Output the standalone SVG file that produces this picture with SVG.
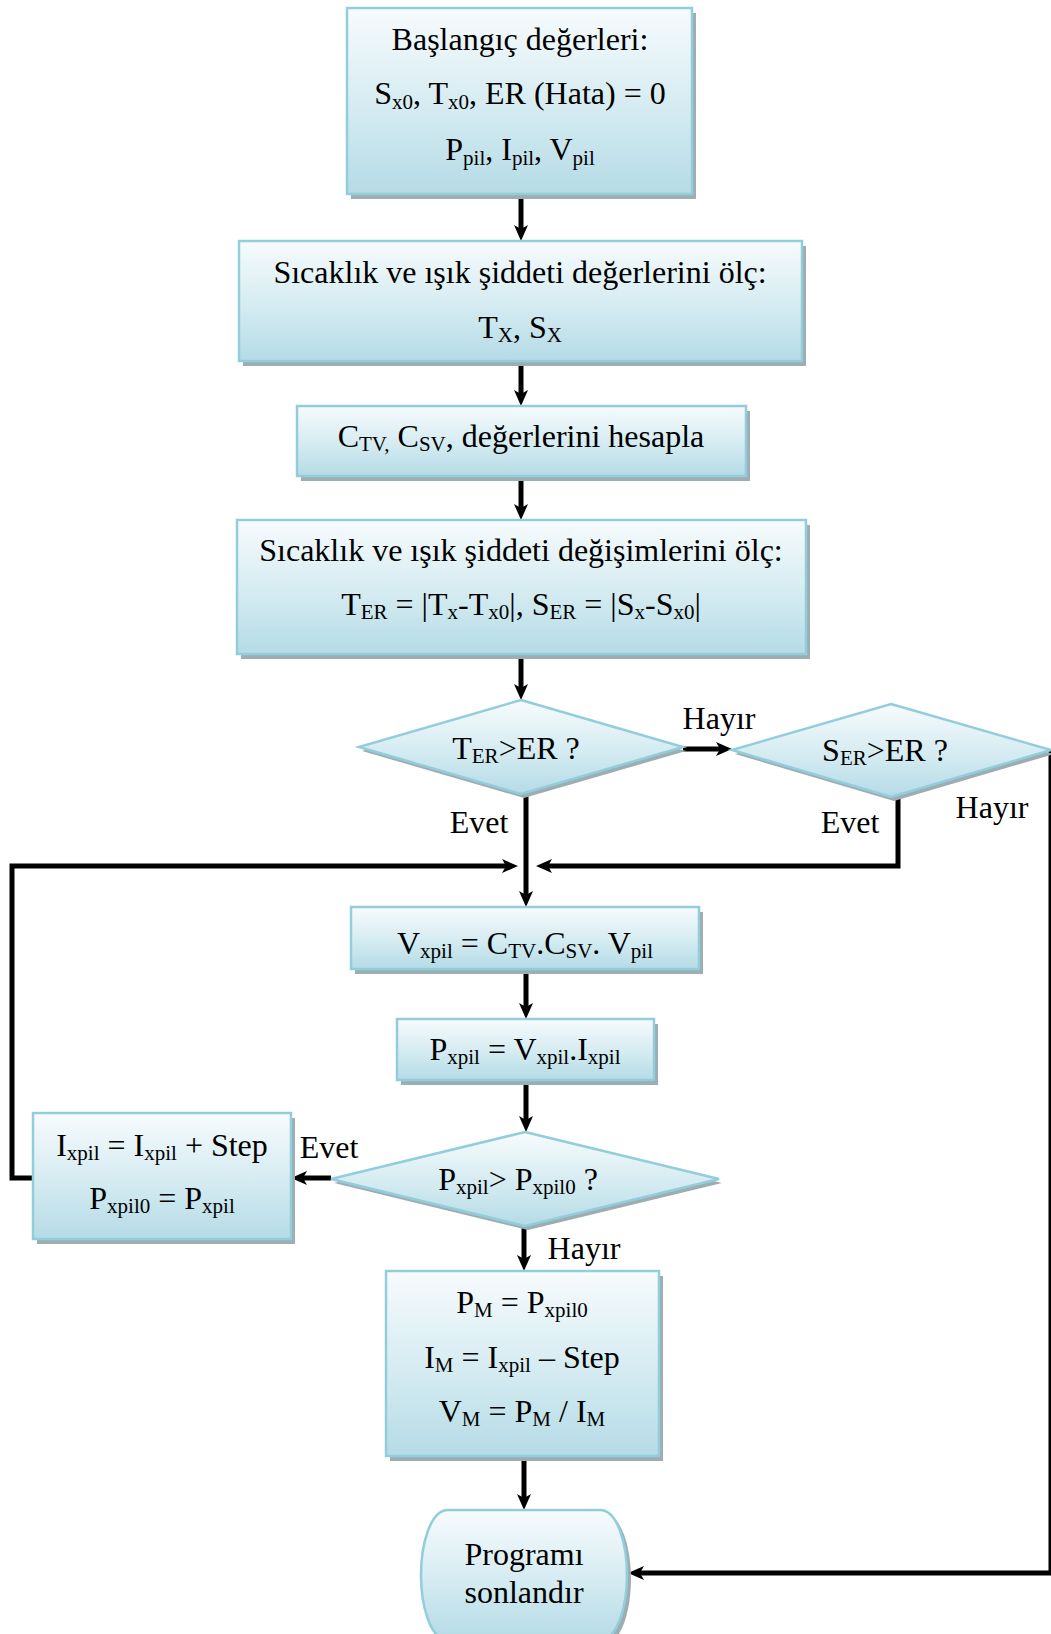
<svg xmlns="http://www.w3.org/2000/svg" width="1051" height="1634" viewBox="0 0 1051 1634">
<defs>
<linearGradient id="fill" x1="0" y1="0" x2="0" y2="1">
<stop offset="0" stop-color="#f7fbfd"/>
<stop offset="0.55" stop-color="#d4ebf1"/>
<stop offset="1" stop-color="#b5dbe6"/>
</linearGradient>
<marker id="arr" markerUnits="userSpaceOnUse" markerWidth="18" markerHeight="16" refX="4" refY="8" orient="auto">
<path d="M0,1 L16,8 L0,15 L4,8 Z" fill="#000"/>
</marker>
</defs>
<style>
.box{fill:url(#fill);stroke:#92cddc;stroke-width:2.5}
.shd{fill:#9eadb2}
.t{font-family:"Liberation Serif","Times New Roman",serif;font-size:32px;fill:#000;text-anchor:middle}
.s{font-size:21px}
.lbl{font-family:"Liberation Serif","Times New Roman",serif;font-size:32px;fill:#000}
.c{fill:none;stroke:#000;stroke-width:5;marker-end:url(#arr)}
.cn{fill:none;stroke:#000;stroke-width:5}
</style>
<rect width="1051" height="1634" fill="#fff"/>

<g id="connectors">
<path class="c" d="M521,194 V229"/>
<path class="c" d="M521,361 V394"/>
<path class="c" d="M521,478 V508"/>
<path class="c" d="M521,656 V688"/>
<path class="c" d="M683,749 H720"/>
<path class="c" d="M526,794 V895"/>
<path class="c" d="M898,797 V866 H548"/>
<path class="c" d="M33,1178 H12 V866 H506"/>
<path class="c" d="M526,971 V1007"/>
<path class="c" d="M526,1082 V1120"/>
<path class="c" d="M331,1178 H303"/>
<path class="c" d="M524,1226 V1259"/>
<path class="c" d="M524,1458 V1498"/>
<path class="c" d="M1051,750 V1573 H640"/>
<text class="lbl" x="719" y="729" text-anchor="middle">Hayır</text>
<text class="lbl" x="479" y="833" text-anchor="middle">Evet</text>
<text class="lbl" x="850" y="833" text-anchor="middle">Evet</text>
<text class="lbl" x="992" y="818" text-anchor="middle">Hayır</text>
<text class="lbl" x="329" y="1158" text-anchor="middle">Evet</text>
<text class="lbl" x="584" y="1259" text-anchor="middle">Hayır</text>
</g>

<g id="n1">
<rect class="shd" x="351" y="13" width="345" height="186"/>
<rect class="box" x="347" y="8" width="345" height="186"/>
<text class="t" x="520" y="50">Başlangıç değerleri:</text>
<text class="t" x="520" y="104">S<tspan class="s" dy="5">x0</tspan><tspan dy="-5">, T</tspan><tspan class="s" dy="5">x0</tspan><tspan dy="-5">, ER (Hata) = 0</tspan></text>
<text class="t" x="520" y="160">P<tspan class="s" dy="5">pil</tspan><tspan dy="-5">, I</tspan><tspan class="s" dy="5">pil</tspan><tspan dy="-5">, V</tspan><tspan class="s" dy="5">pil</tspan></text>
</g>

<g id="n2">
<rect class="shd" x="243" y="246" width="563" height="120"/>
<rect class="box" x="239" y="241" width="563" height="120"/>
<text class="t" x="520" y="283">Sıcaklık ve ışık şiddeti değerlerini ölç:</text>
<text class="t" x="520" y="338">T<tspan class="s" dy="4">X</tspan><tspan dy="-4">, S</tspan><tspan class="s" dy="4">X</tspan></text>
</g>

<g id="n3">
<rect class="shd" x="301" y="411" width="449" height="70"/>
<rect class="box" x="297" y="406" width="449" height="70"/>
<text class="t" x="521" y="447">C<tspan class="s" dy="4">TV,</tspan><tspan dy="-4"> C</tspan><tspan class="s" dy="4">SV</tspan><tspan dy="-4">, değerlerini hesapla</tspan></text>
</g>

<g id="n4">
<rect class="shd" x="241" y="525" width="569" height="134"/>
<rect class="box" x="237" y="520" width="569" height="134"/>
<text class="t" x="521" y="561">Sıcaklık ve ışık şiddeti değişimlerini ölç:</text>
<text class="t" x="521" y="615">T<tspan class="s" dy="4">ER</tspan><tspan dy="-4"> = |T</tspan><tspan class="s" dy="4">x</tspan><tspan dy="-4">-T</tspan><tspan class="s" dy="4">x0</tspan><tspan dy="-4">|, S</tspan><tspan class="s" dy="4">ER</tspan><tspan dy="-4"> = |S</tspan><tspan class="s" dy="4">x</tspan><tspan dy="-4">-S</tspan><tspan class="s" dy="4">x0</tspan><tspan dy="-4">|</tspan></text>
</g>

<g id="d1">
<polygon class="shd" points="524,704 686,751 524,798 362,751"/>
<polygon class="box" points="521,700 683,747 521,794 359,747"/>
<text class="t" x="516" y="759">T<tspan class="s" dy="4">ER</tspan><tspan dy="-4">&gt;ER ?</tspan></text>
</g>

<g id="d2">
<polygon class="shd" points="894,708 1054,754 894,801 735,754"/>
<polygon class="box" points="891,704 1051,750 891,797 732,750"/>
<text class="t" x="885" y="761">S<tspan class="s" dy="4">ER</tspan><tspan dy="-4">&gt;ER ?</tspan></text>
</g>

<g id="n5">
<rect class="shd" x="355" y="912" width="348" height="62"/>
<rect class="box" x="351" y="907" width="348" height="62"/>
<text class="t" x="525" y="954">V<tspan class="s" dy="4">xpil</tspan><tspan dy="-4"> = C</tspan><tspan class="s" dy="4">TV</tspan><tspan dy="-4">.C</tspan><tspan class="s" dy="4">SV</tspan><tspan dy="-4">. V</tspan><tspan class="s" dy="4">pil</tspan></text>
</g>

<g id="n6">
<rect class="shd" x="401" y="1024" width="257" height="61"/>
<rect class="box" x="397" y="1019" width="257" height="61"/>
<text class="t" x="525" y="1060">P<tspan class="s" dy="4">xpil</tspan><tspan dy="-4"> = V</tspan><tspan class="s" dy="4">xpil</tspan><tspan dy="-4">.I</tspan><tspan class="s" dy="4">xpil</tspan></text>
</g>

<g id="d3">
<polygon class="shd" points="528,1136 722,1183 528,1230 334,1183"/>
<polygon class="box" points="525,1132 719,1179 525,1226 331,1179"/>
<text class="t" x="518" y="1190">P<tspan class="s" dy="4">xpil</tspan><tspan dy="-4">&gt; P</tspan><tspan class="s" dy="4">xpil0</tspan><tspan dy="-4"> ?</tspan></text>
</g>

<g id="n7">
<rect class="shd" x="37" y="1118" width="258" height="126"/>
<rect class="box" x="33" y="1113" width="258" height="126"/>
<text class="t" x="162" y="1156">I<tspan class="s" dy="4">xpil</tspan><tspan dy="-4"> = I</tspan><tspan class="s" dy="4">xpil</tspan><tspan dy="-4"> + Step</tspan></text>
<text class="t" x="162" y="1209">P<tspan class="s" dy="4">xpil0</tspan><tspan dy="-4"> = P</tspan><tspan class="s" dy="4">xpil</tspan></text>
</g>

<g id="n8">
<rect class="shd" x="390" y="1276" width="273" height="185"/>
<rect class="box" x="386" y="1271" width="273" height="185"/>
<text class="t" x="522" y="1313">P<tspan class="s" dy="4">M</tspan><tspan dy="-4"> = P</tspan><tspan class="s" dy="4">xpil0</tspan></text>
<text class="t" x="522" y="1368">I<tspan class="s" dy="4">M</tspan><tspan dy="-4"> = I</tspan><tspan class="s" dy="4">xpil</tspan><tspan dy="-4"> – Step</tspan></text>
<text class="t" x="522" y="1422">V<tspan class="s" dy="4">M</tspan><tspan dy="-4"> = P</tspan><tspan class="s" dy="4">M</tspan><tspan dy="-4"> / I</tspan><tspan class="s" dy="4">M</tspan></text>
</g>

<g id="end">
<path class="shd" d="M452,1514 H604 C622,1514 631,1549 631,1579 C631,1609 622,1644 604,1644 H452 C434,1644 425,1609 425,1579 C425,1549 434,1514 452,1514 Z"/>
<path class="box" d="M448,1510 H600 C618,1510 627,1545 627,1575 C627,1605 618,1640 600,1640 H448 C430,1640 421,1605 421,1575 C421,1545 430,1510 448,1510 Z"/>
<text class="t" x="524" y="1565">Programı</text>
<text class="t" x="524" y="1603">sonlandır</text>
</g>
</svg>
